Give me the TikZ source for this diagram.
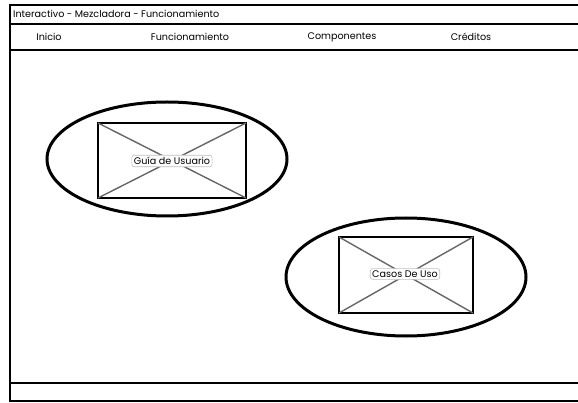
\documentclass[tikz,border=0pt]{standalone}
\usepackage{fontspec}
\setmainfont{Poppins}
\begin{document}
\begin{tikzpicture}[x=1pt,y=-1pt,
  frame/.style={draw=black,line width=1.9pt},
  ring/.style={draw=black,line width=3pt},
  imgbox/.style={draw=black,line width=1.9pt,fill=white},
  cross/.style={draw=black!60,line width=1.4pt},
  caption/.style={draw=black!25,line width=0.6pt,fill=white,rounded corners=2.5pt,
    inner sep=2pt,font=\fontsize{9.6}{11}\selectfont},
  navtext/.style={font=\fontsize{9.6}{11}\selectfont,anchor=center},
]
\useasboundingbox (0,0) rectangle (578,403);
\fill[white] (0,0) rectangle (578,403);
\begin{scope}
\clip (0,0) rectangle (578,403);
% window frame, title bar, menu bar and status bar
\draw[frame] (10,5) rectangle (590,401);
\draw[frame] (10,24) -- (590,24);
\draw[frame] (10,50) -- (590,50);
\draw[frame] (10,383) -- (590,383);
\end{scope}
\node[navtext,anchor=west,inner sep=0pt] (title) at (13,14) {Interactivo - Mezcladora - Funcionamiento};
\node[navtext] (inicio) at (49,37) {Inicio};
\node[navtext] (func) at (190,37) {Funcionamiento};
\node[navtext] (comp) at (342,37) {Componentes};
\node[navtext] (cred) at (471,37) {Créditos};

% first image placeholder
\draw[ring] (167,159) ellipse [x radius=120, y radius=57];
\draw[imgbox] (98,123) rectangle (246,198);
\coordinate (a1) at (98,123);
\coordinate (a2) at (246,123);
\coordinate (a3) at (246,198);
\coordinate (a4) at (98,198);
\draw[cross] (a1) -- (a3) (a2) -- (a4);
\node[caption] (guia) at (172,161) {Guía de Usuario};

% second image placeholder
\draw[ring] (406,277) ellipse [x radius=120, y radius=59];
\draw[imgbox] (339,237) rectangle (473,313);
\coordinate (b1) at (339,237);
\coordinate (b2) at (473,237);
\coordinate (b3) at (473,313);
\coordinate (b4) at (339,313);
\draw[cross] (b1) -- (b3) (b2) -- (b4);
\node[caption] (casos) at (405,274) {Casos De Uso};
\end{tikzpicture}
\end{document}
